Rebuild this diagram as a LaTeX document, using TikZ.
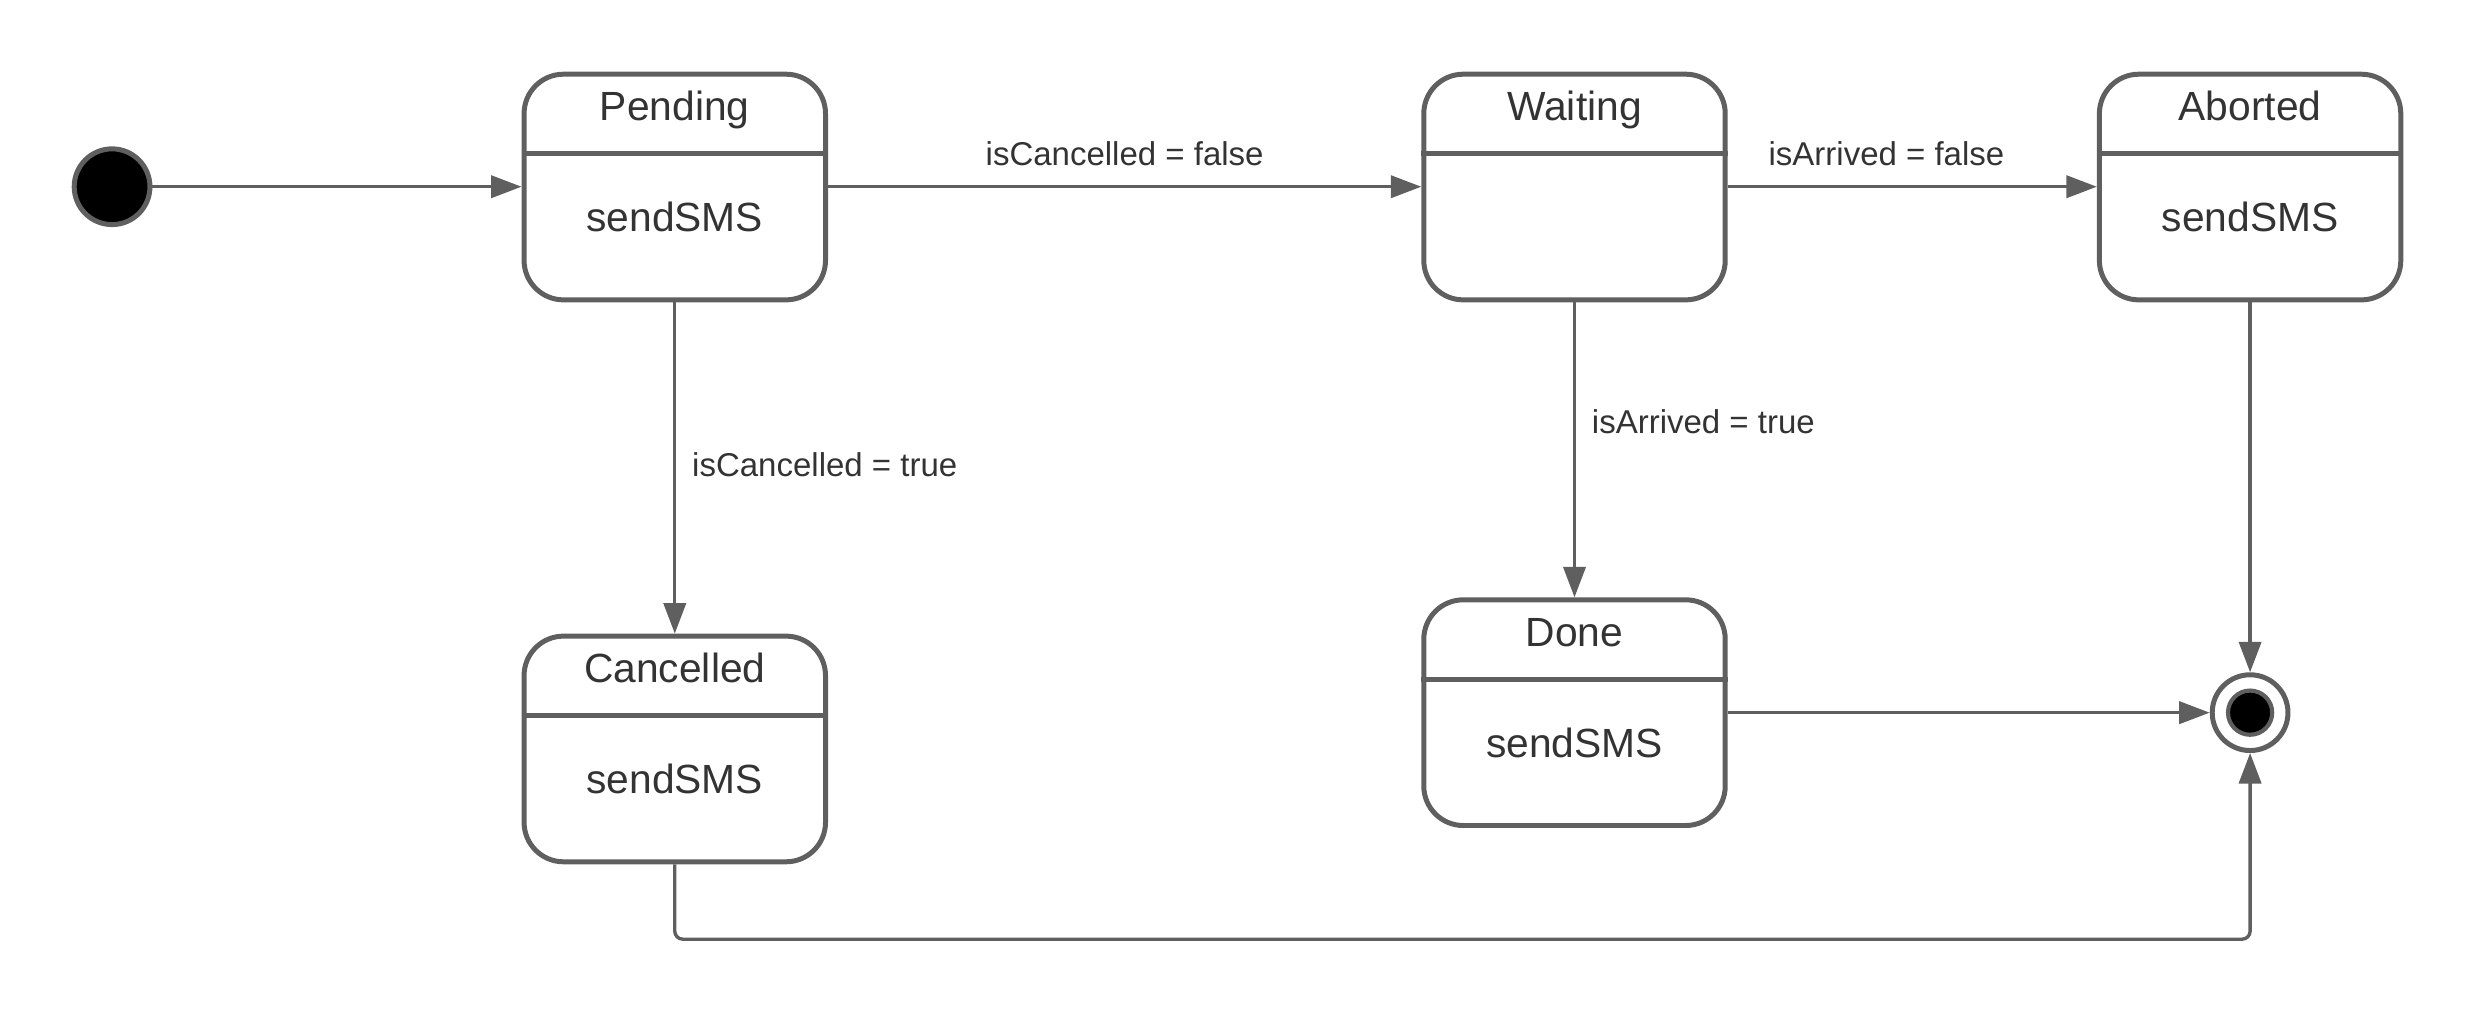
\documentclass[tikz,border=0pt]{standalone}
\usepackage{fontspec}
\setmainfont{Liberation Sans}
\usetikzlibrary{arrows.meta}
\definecolor{ln}{HTML}{5F5F5F}
\definecolor{tx}{HTML}{333333}
\begin{document}
\begin{tikzpicture}[x=0.02cm,y=-0.02cm,
  statebox/.style={draw=ln,line width=1.8pt,rounded corners=0.5cm,minimum width=3.82cm,minimum height=2.86cm,inner sep=0pt},
  ttl/.style={text=tx,font=\fontsize{14.7}{16}\selectfont,inner sep=0pt,anchor=base},
  lbl/.style={text=tx,font=\fontsize{11.9}{13}\selectfont,inner sep=0pt},
  conn/.style={draw=ln,line width=1.2pt,-{Triangle[length=11pt,width=8pt]}}]
\useasboundingbox (0,0) rectangle (1568,643.7);
% initial
\node[circle,draw=ln,line width=1.8pt,fill=black,minimum size=0.96cm,inner sep=0pt] (init) at (71,118.3) {};
% states
\node[statebox] (pend) at (427.5,118.5) {};
\node[statebox] (wait) at (997.5,118.5) {};
\node[statebox] (abort) at (1425.5,118.5) {};
\node[statebox] (canc) at (427.5,474.5) {};
\node[statebox] (done) at (997.5,451.5) {};
\foreach \s/\t/\b in {pend/Pending/sendSMS,wait/Waiting/,abort/Aborted/sendSMS,canc/Cancelled/sendSMS,done/Done/sendSMS}{
  \draw[ln,line width=1.8pt] ([yshift=-1.04cm]\s.north west) -- ([yshift=-1.04cm]\s.north east);
  \node[ttl] (\s-t) at ([yshift=-0.62cm]\s.north) {\t};
  \node[ttl] (\s-b) at ([yshift=-2.03cm]\s.north) {\b};
}
% final
\node[circle,draw=ln,line width=1.8pt,fill=white,minimum size=0.96cm,inner sep=0pt] (fin) at (1425.5,451.5) {};
\node[circle,draw=ln,line width=1.5pt,fill=black,minimum size=0.56cm,inner sep=0pt] (fin-in) at (fin) {};
% connectors
\draw[conn] (init) -- (pend.west|-init);
\draw[conn] (pend.east|-init) -- (wait.west|-init) node[lbl,midway,anchor=base,yshift=0.274cm] (l1) {isCancelled = false};
\draw[conn] (wait.east|-init) -- (abort.west|-init) node[lbl,pos=0.43,anchor=base,yshift=0.274cm] (l2) {isArrived = false};
\draw[conn] (pend.south) -- (canc.north) node[lbl,pos=0.49,right=0.2cm] (l3) {isCancelled = true};
\draw[conn] (wait.south) -- (done.north) node[lbl,pos=0.405,right=0.2cm] (l4) {isArrived = true};
\draw[conn] (abort.south) -- (fin.north);
\draw[conn] (done.east|-fin) -- (fin.west);
\coordinate (c1) at (427.5,595);
\coordinate (c2) at (1425.5,595);
\draw[conn,rounded corners=0.1cm] (canc.south) -- (c1) -- (c2) -- (fin.south);
\end{tikzpicture}
\end{document}
